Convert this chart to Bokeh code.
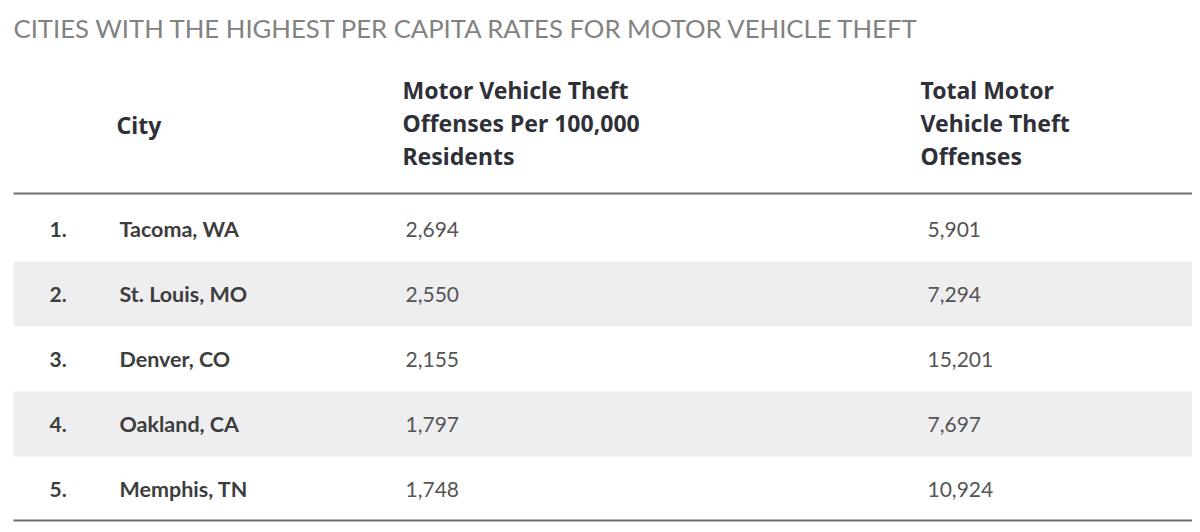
from bokeh.plotting import figure
from bokeh.models import Range1d, ColumnDataSource
from bokeh.embed import file_html
from bokeh.resources import INLINE
from bokeh.core.properties import value

# ---- data ----
title = "CITIES WITH THE HIGHEST PER CAPITA RATES FOR MOTOR VEHICLE THEFT"
col_headers = [["City"],
               ["Motor Vehicle Theft", "Offenses Per 100,000", "Residents"],
               ["Total Motor", "Vehicle Theft", "Offenses"]]
ranks = ["1.", "2.", "3.", "4.", "5."]
cities = ["Tacoma, WA", "St. Louis, MO", "Denver, CO", "Oakland, CA", "Memphis, TN"]
rate_per_100k = [2694, 2550, 2155, 1797, 1748]
total_offenses = [5901, 7294, 15201, 7697, 10924]

# ---- layout (pixel space) ----
W, H = 1192, 524
p = figure(width=W, height=H, output_backend="svg", toolbar_location=None,
           x_range=Range1d(0, W), y_range=Range1d(H, 0), min_border=0,
           outline_line_color=None, background_fill_color="white",
           border_fill_color="white")
p.xaxis.visible = False
p.yaxis.visible = False
p.grid.visible = False

row_top0 = 196
row_h = 65
n = len(cities)
row_center = [row_top0 + row_h * (i + 0.5) for i in range(n)]

# alternating bands
band_idx = [i for i in range(n) if i % 2 == 1]
p.quad(left=13, right=W,
       top=[row_top0 + row_h * i for i in band_idx],
       bottom=[row_top0 + row_h * (i + 1) for i in band_idx],
       fill_color="#eeeef0", line_color=None)

# rules
p.segment(x0=[13, 13], x1=[W, W], y0=[193, 520], y1=[193, 520],
          line_color="#6e6e6e", line_width=2)

# title
p.text(x=[13], y=[27], text=[title], text_font=value("Lato"),
       text_font_size="25.7px", text_color="#828282", text_baseline="middle")

# headers
header_x = [116, 402, 920]
line_gap = 33
for hx, lines in zip(header_x, col_headers):
    k = len(lines)
    ys = [122 + (j - (k - 1) / 2) * line_gap for j in range(k)]
    if k == 1:
        ys = [124]
    p.text(x=[hx] * k, y=ys, text=lines, text_font=value("Noto Sans"),
           text_font_style="bold", text_font_size="23px", text_color="#2f2f37",
           text_baseline="middle")

src = ColumnDataSource(dict(
    y=row_center, rank=ranks, city=cities,
    rate=[f"{v:,}" for v in rate_per_100k],
    total=[f"{v:,}" for v in total_offenses]))

p.text(x=49, y="y", text="rank", source=src, text_font=value("Lato"),
       text_font_style="bold", text_font_size="21px", text_color="#3d3d3d",
       text_baseline="middle")
p.text(x=119, y="y", text="city", source=src, text_font=value("Lato"),
       text_font_style="bold", text_font_size="21.5px", text_color="#3d3d3d",
       text_baseline="middle")
p.text(x=405, y="y", text="rate", source=src, text_font=value("Lato"),
       text_font_size="21px", text_color="#555555", text_baseline="middle")
p.text(x=927, y="y", text="total", source=src, text_font=value("Lato"),
       text_font_size="21px", text_color="#555555", text_baseline="middle")

open("out.html", "w").write(file_html(p, INLINE))
